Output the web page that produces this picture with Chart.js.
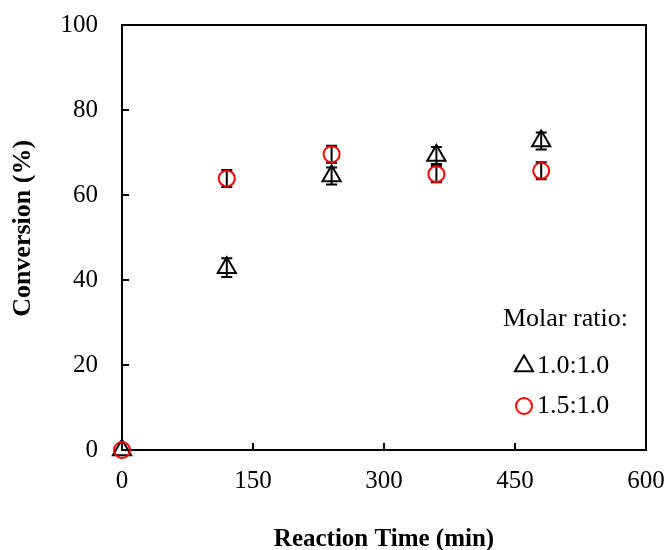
<!DOCTYPE html>
<html>
<head>
<meta charset="utf-8">
<script src="https://cdn.jsdelivr.net/npm/chart.js@4.4.1/dist/chart.umd.min.js"></script>
<style>
  html, body { margin: 0; padding: 0; background: #fff; }
</style>
</head>
<body>
<canvas id="chart" width="667" height="550"></canvas>
<script>
// values
const times = [0, 120, 240, 360, 480];
const ratio10 = [0, 42.9, 64.5, 69.3, 72.7];
const ratio10Err = [0, 2.2, 2, 2, 2];
const ratio15 = [0, 63.9, 69.6, 64.9, 65.7];
const ratio15Err = [0, 2, 2, 1.9, 2];
const xTicks = [0, 150, 300, 450, 600];
const yTicks = [0, 20, 40, 60, 80, 100];
const legendTitle = 'Molar ratio:';
const seriesNames = ['1.0:1.0', '1.5:1.0'];

const serif = '"Liberation Serif", "Times New Roman", serif';
Chart.defaults.font.family = serif;
Chart.defaults.color = '#000';

const toPoints = (ys) => times.map((t, i) => ({ x: t, y: ys[i] }));

const triStyle = { pointStyle: 'triangle', radius: 10.5, borderWidth: 2, borderColor: '#000' };
const circStyle = { pointStyle: 'circle', radius: 8, borderWidth: 2, borderColor: '#ff0000' };

// box, inside tick marks and error bars, drawn under the markers
const frameAndErrors = {
  id: 'frameAndErrors',
  beforeDatasetsDraw(chart) {
    const { ctx, chartArea: a, scales: { x, y } } = chart;
    ctx.save();
    ctx.strokeStyle = '#000';
    ctx.lineWidth = 2;
    ctx.strokeRect(a.left, a.top, a.right - a.left, a.bottom - a.top);
    ctx.beginPath();
    x.ticks.forEach(t => {
      const px = x.getPixelForValue(t.value);
      ctx.moveTo(px, a.bottom); ctx.lineTo(px, a.bottom - 7);
    });
    y.ticks.forEach(t => {
      const py = y.getPixelForValue(t.value);
      ctx.moveTo(a.left, py); ctx.lineTo(a.left + 7, py);
    });
    ctx.stroke();

    const bars = [[ratio10, ratio10Err], [ratio15, ratio15Err]];
    ctx.beginPath();
    bars.forEach(([vals, errs]) => {
      times.forEach((t, i) => {
        if (!errs[i]) return;
        const px = x.getPixelForValue(t);
        const top = y.getPixelForValue(vals[i] + errs[i]);
        const bot = y.getPixelForValue(vals[i] - errs[i]);
        ctx.moveTo(px, top); ctx.lineTo(px, bot);
        ctx.moveTo(px - 5.5, top); ctx.lineTo(px + 5.5, top);
        ctx.moveTo(px - 5.5, bot); ctx.lineTo(px + 5.5, bot);
      });
    });
    ctx.stroke();
    ctx.restore();
  }
};

// legend inside the plot, lower right
const insideLegend = {
  id: 'insideLegend',
  afterDraw(chart) {
    const { ctx } = chart;
    ctx.save();
    ctx.font = '26px ' + serif;
    ctx.textBaseline = 'middle';
    ctx.textAlign = 'left';
    ctx.fillStyle = '#000';
    ctx.fillText(legendTitle, 503, 319);
    const rows = [[triStyle, 366], [circStyle, 406]];
    rows.forEach(([st, ly], i) => {
      ctx.strokeStyle = st.borderColor;
      ctx.fillStyle = 'rgba(0,0,0,0)';
      ctx.lineWidth = st.borderWidth;
      Chart.helpers.drawPoint(ctx, { pointStyle: st.pointStyle, radius: st.radius, borderWidth: st.borderWidth, rotation: 0 }, 524, ly);
      ctx.fillStyle = '#000';
      ctx.fillText(seriesNames[i], 537, ly);
    });
    ctx.restore();
  }
};

new Chart(document.getElementById('chart'), {
  type: 'scatter',
  data: {
    datasets: [
      {
        label: seriesNames[0],
        data: toPoints(ratio10),
        order: 1,
        clip: false,
        pointStyle: triStyle.pointStyle,
        pointRadius: triStyle.radius,
        pointHoverRadius: triStyle.radius,
        pointBorderWidth: triStyle.borderWidth,
        pointBorderColor: triStyle.borderColor,
        pointBackgroundColor: 'rgba(0,0,0,0)'
      },
      {
        label: seriesNames[1],
        data: toPoints(ratio15),
        order: 0,
        clip: false,
        pointStyle: circStyle.pointStyle,
        pointRadius: circStyle.radius,
        pointHoverRadius: circStyle.radius,
        pointBorderWidth: circStyle.borderWidth,
        pointBorderColor: circStyle.borderColor,
        pointBackgroundColor: 'rgba(0,0,0,0)'
      }
    ]
  },
  options: {
    responsive: false,
    animation: false,
    layout: { padding: { top: 25, right: 21, bottom: 0, left: 0 } },
    plugins: { legend: { display: false }, tooltip: { enabled: false } },
    scales: {
      x: {
        type: 'linear',
        min: 0, max: 600,
        afterBuildTicks: s => { s.ticks = xTicks.map(v => ({ value: v })); },
        afterFit: s => { s.height = 100; s.paddingLeft = 0; s.paddingRight = 0; },
        grid: { display: false, drawTicks: false },
        border: { display: true, color: '#000', width: 2 },
        ticks: { padding: 16, font: { size: 25 }, maxRotation: 0 },
        title: {
          display: true,
          text: 'Reaction Time (min)',
          font: { size: 25, weight: 'bold' },
          padding: { top: 0, bottom: -5 }
        }
      },
      y: {
        type: 'linear',
        min: 0, max: 100,
        afterBuildTicks: s => { s.ticks = yTicks.map(v => ({ value: v })); },
        afterFit: s => { s.width = 122; s.paddingTop = 0; s.paddingBottom = 0; },
        grid: { display: false, drawTicks: false },
        border: { display: true, color: '#000', width: 2 },
        ticks: { padding: 24, font: { size: 25 } },
        title: {
          display: true,
          // leading spaces nudge the rotated title up a little, as in the reference
          text: '\u2002\u2009Conversion (%)',
          font: { size: 26, weight: 'bold' },
          padding: { top: 8, bottom: 0 }
        }
      }
    }
  },
  plugins: [frameAndErrors, insideLegend]
});
</script>
</body>
</html>
